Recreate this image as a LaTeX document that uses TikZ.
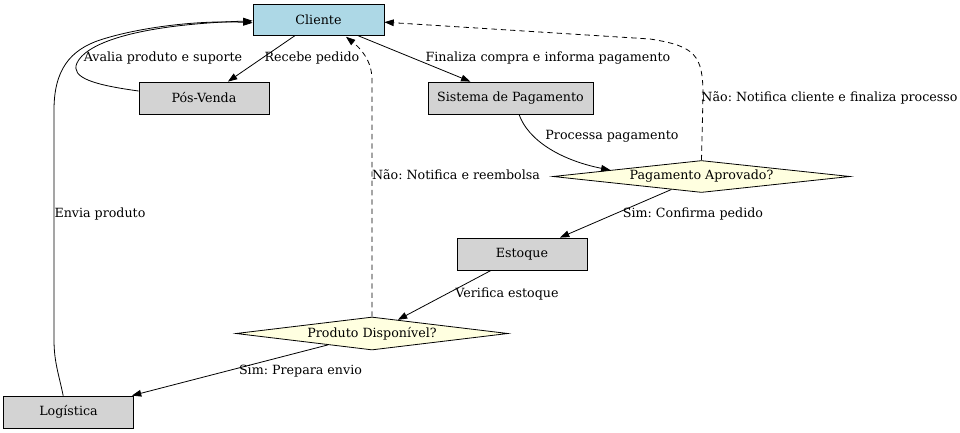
\documentclass[tikz,border=0pt]{standalone}
\usepackage{fontspec}
\setmainfont{DejaVu Serif}
\usetikzlibrary{arrows.meta,shapes.geometric}
\definecolor{lblue}{HTML}{ADD8E6}
\definecolor{lgray}{HTML}{D3D3D3}
\definecolor{lyel}{HTML}{FFFFE0}
\frenchspacing
\begin{document}
\begin{tikzpicture}[x=0.75pt,y=-0.75pt,
  txt/.style={font=\fontsize{9.5}{11}\selectfont},
  box/.style={txt,draw=black,line width=0.6pt,fill=lgray,minimum width=97.5pt,minimum height=24pt,inner sep=0pt},
  dec/.style={txt,diamond,aspect=9,draw=black,line width=0.6pt,fill=lyel,inner sep=0pt},
  lbl/.style={txt,inner sep=0pt},
  arr/.style={line width=0.6pt,-{Triangle[length=7pt,width=5pt]}},
  darr/.style={arr,dash pattern=on 4pt off 3pt}
]
\useasboundingbox (0,0) rectangle (960,432);
\fill[white] (0,0) rectangle (960,432);

\node[box,fill=lblue,minimum width=98.25pt,minimum height=23.25pt] (cli) at (318.5,19.5) {Cliente};
\node[box] (pos) at (204,98) {Pós-Venda};
\node[box,minimum width=123.75pt] (sis) at (510.5,98) {Sistema de Pagamento};
\node[dec,minimum width=222.75pt,minimum height=24pt] (pag) at (701.5,176.5) {Pagamento Aprovado?};
\node[box] (est) at (522,254) {Estoque};
\node[dec,minimum width=204pt,minimum height=24.75pt] (pro) at (372,333.5) {Produto Disponível?};
\node[box] (log) at (68.5,412) {Logística};

% edges
\draw[arr] (cli) -- (pos);
\draw[arr] ([yshift=5.25pt]pos.west) .. controls (95,85) and (70,78) .. (77,63)
  .. controls (85,45) and (130,25) .. ([yshift=-1pt]cli.west);
\draw[arr] (cli) -- (sis);
\draw[arr] ([xshift=6.4pt]sis.south) .. controls (528,140) and (560,160) .. (pag.176.8);
\draw[darr] (pag.north) -- (703,95) .. controls (703,55) and (695,46) .. (650,39) -- ([yshift=-2pt]cli.east);
\draw[arr] (pag) -- (est);
\draw[arr] (est) -- (pro);
\draw[darr] (pro.north) -- (372,80) .. controls (372,60) and (360,48) .. ([xshift=20.6pt,yshift=-1pt]cli.south);
\draw[arr] (pro) -- (log);
\draw[arr] ([xshift=-4pt]log.north) .. controls (59,375) and (54,362) .. (54,340) -- (54,110)
  .. controls (54,70) and (70,50) .. (100,40) .. controls (140,27) and (200,20) .. ([yshift=-2.5pt]cli.west);

% labels
\node[lbl] (l1) at (163,58) {Avalia produto e suporte};
\node[lbl] (l2) at (312,58) {Recebe pedido};
\node[lbl] (l3) at (548,58) {Finaliza compra e informa pagamento};
\node[lbl] (l4) at (829.5,98) {Não: Notifica cliente e finaliza processo};
\node[lbl] (l5) at (612,136) {Processa pagamento};
\node[lbl] (l6) at (456,175) {Não: Notifica e reembolsa};
\node[lbl] (l7) at (693,214) {Sim: Confirma pedido};
\node[lbl] (l8) at (100,214) {Envia produto};
\node[lbl] (l9) at (507,294) {Verifica estoque};
\node[lbl] (l10) at (300.5,371) {Sim: Prepara envio};
\end{tikzpicture}
\end{document}
